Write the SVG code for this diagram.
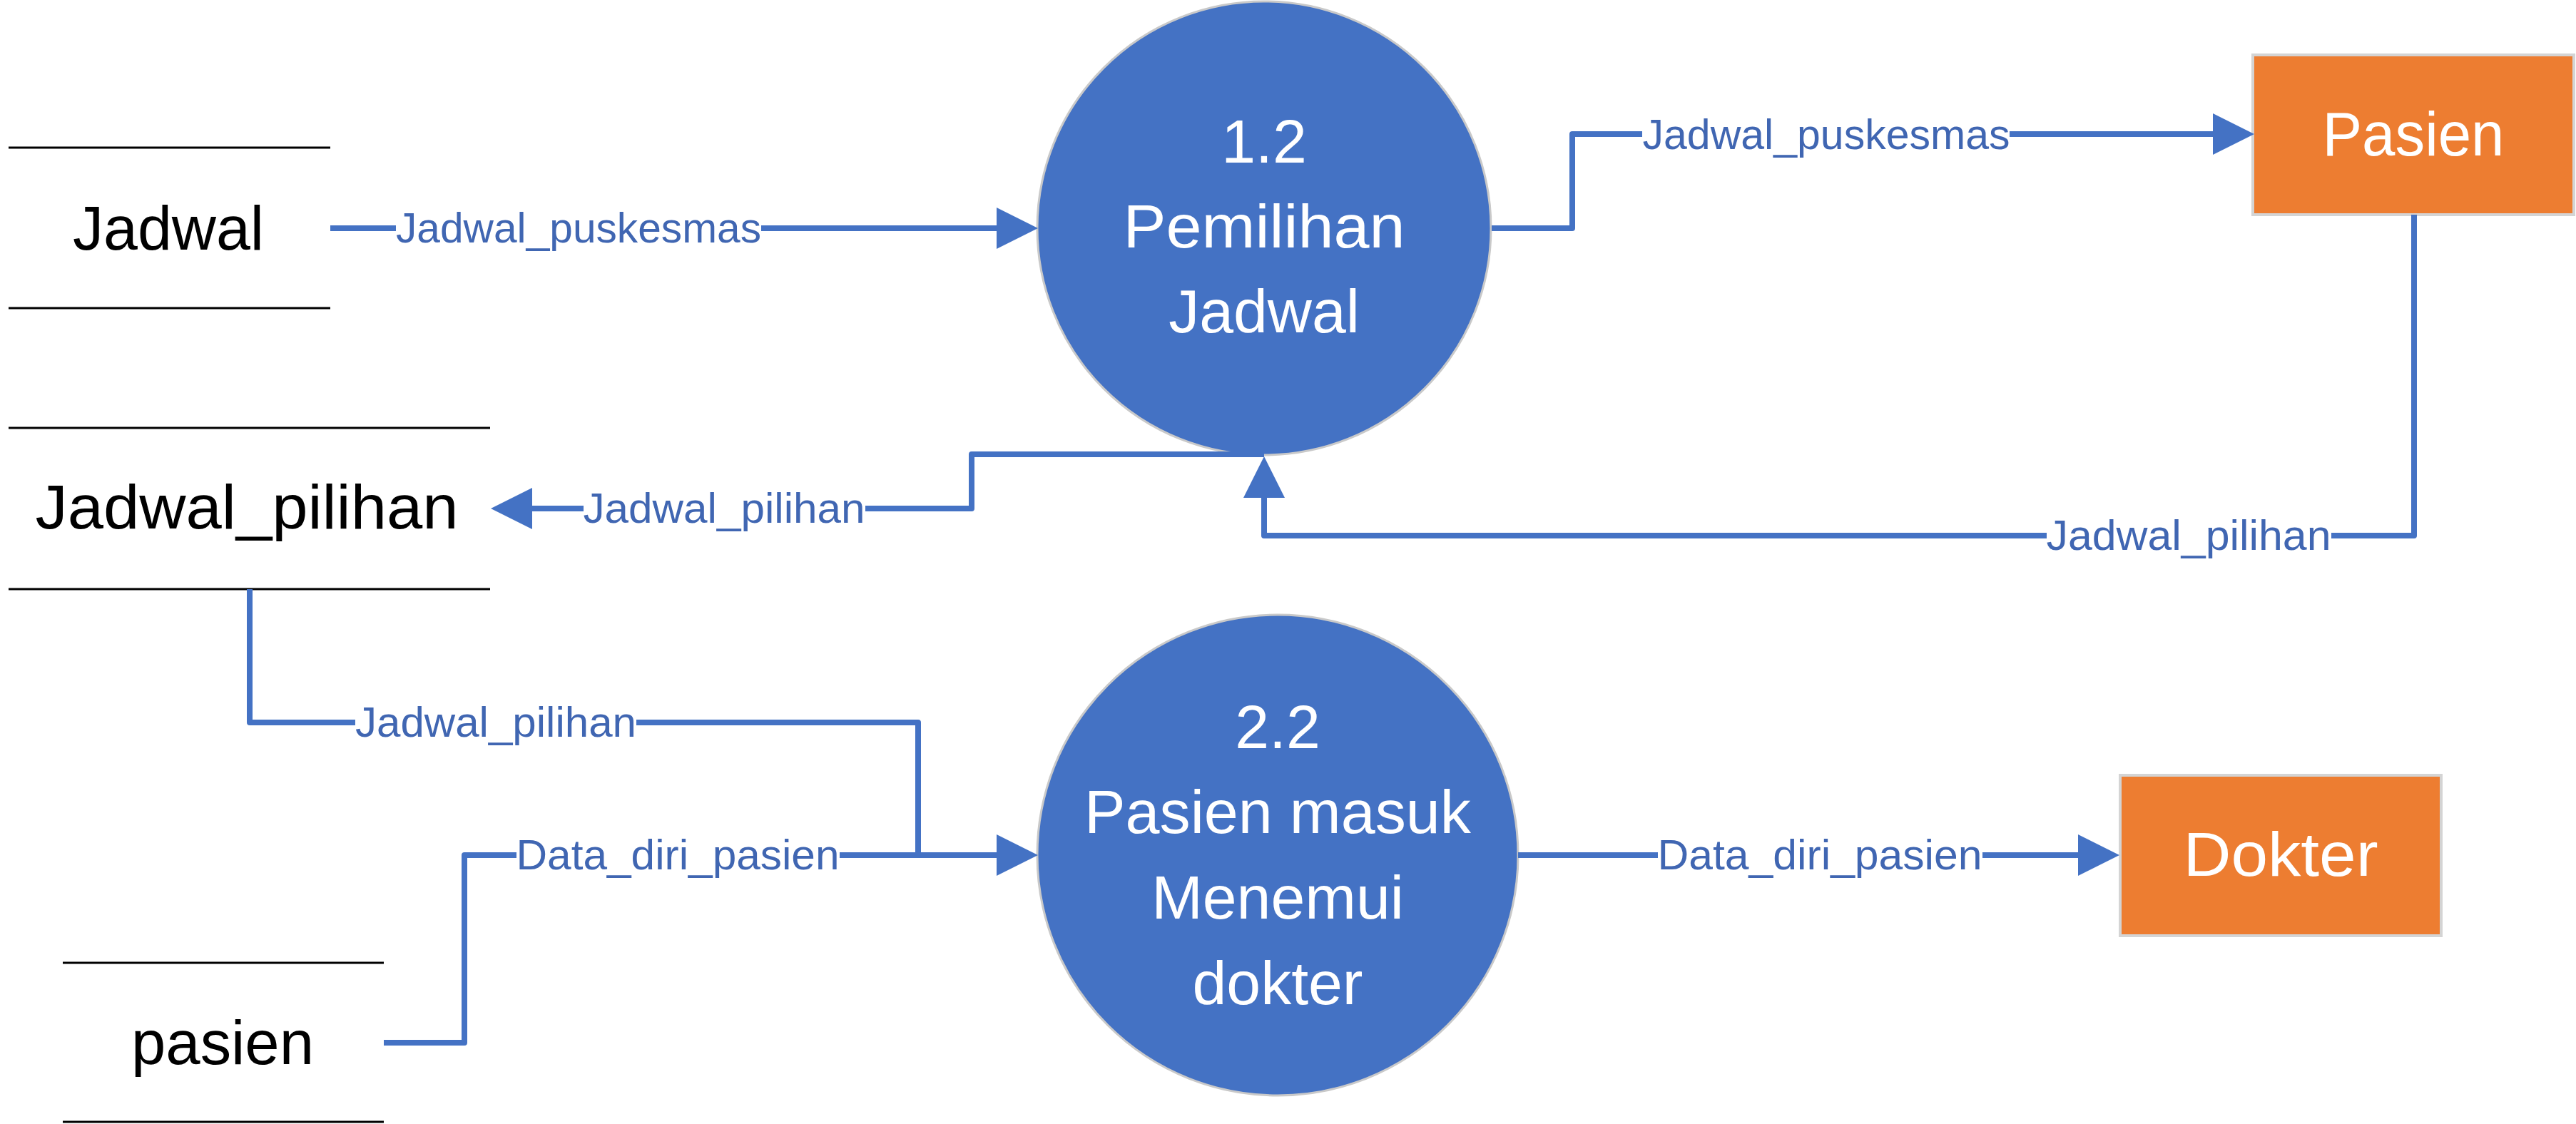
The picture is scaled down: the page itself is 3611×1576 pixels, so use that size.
<svg xmlns="http://www.w3.org/2000/svg" width="3611" height="1576" viewBox="0 0 3611 1576">
<style>
.store{stroke:#000;stroke-width:3;fill:none}
.stxt{font-family:"Liberation Sans",Arial,sans-serif;font-size:88px;fill:#000;text-anchor:middle}
.proc{fill:#4472C4;stroke:#C9C9C9;stroke-width:3}
.ptxt{font-family:"Liberation Sans",Arial,sans-serif;font-size:86px;fill:#fff;text-anchor:middle}
.ent{fill:#ED7D31;stroke:#D4D4D4;stroke-width:4}
.etxt{font-family:"Liberation Sans",Arial,sans-serif;font-size:88px;fill:#fff;text-anchor:middle}
.flow{stroke:#4472C4;stroke-width:8;fill:none;stroke-linejoin:round}
.lbg{fill:#fff}
.ltxt{font-family:"Liberation Sans",Arial,sans-serif;font-size:60px;fill:#4066B2;text-anchor:middle}
</style>
<defs>
<marker id="arr" markerUnits="userSpaceOnUse" markerWidth="60" markerHeight="60" viewBox="0 -30 60 60" refX="0" refY="0" orient="auto">
<path d="M0,-29 L58,0 L0,29 Z" fill="#4472C4"/>
</marker>
</defs>
<g id="store-jadwal">
<line class="store" x1="12" y1="207" x2="463" y2="207"/>
<line class="store" x1="12" y1="432" x2="463" y2="432"/>
<text class="stxt" x="236" y="350" textLength="268" lengthAdjust="spacingAndGlyphs">Jadwal</text>
</g>
<g id="store-jadwal-pilihan">
<line class="store" x1="12" y1="600" x2="687" y2="600"/>
<line class="store" x1="12" y1="826" x2="687" y2="826"/>
<text class="stxt" x="346" y="741" textLength="593" lengthAdjust="spacingAndGlyphs">Jadwal_pilihan</text>
</g>
<g id="store-pasien">
<line class="store" x1="88" y1="1350" x2="538" y2="1350"/>
<line class="store" x1="88" y1="1573" x2="538" y2="1573"/>
<text class="stxt" x="312" y="1492" textLength="256" lengthAdjust="spacingAndGlyphs">pasien</text>
</g>
<g id="proc-1-2">
<circle class="proc" cx="1772" cy="320" r="318"/>
<text class="ptxt" x="1772" y="228">1.2</text>
<text class="ptxt" x="1772" y="347" textLength="395" lengthAdjust="spacingAndGlyphs">Pemilihan</text>
<text class="ptxt" x="1772" y="466">Jadwal</text>
</g>
<g id="proc-2-2">
<circle class="proc" cx="1791" cy="1199" r="337"/>
<text class="ptxt" x="1791" y="1049">2.2</text>
<text class="ptxt" x="1791" y="1168" textLength="542" lengthAdjust="spacingAndGlyphs">Pasien masuk</text>
<text class="ptxt" x="1791" y="1288">Menemui</text>
<text class="ptxt" x="1791" y="1408">dokter</text>
</g>
<g id="ent-pasien">
<rect class="ent" x="3158" y="77" width="450" height="224"/>
<text class="etxt" x="3383" y="218" textLength="255" lengthAdjust="spacingAndGlyphs">Pasien</text>
</g>
<g id="ent-dokter">
<rect class="ent" x="2972" y="1087" width="450" height="225"/>
<text class="etxt" x="3197" y="1228" textLength="273" lengthAdjust="spacingAndGlyphs">Dokter</text>
</g>
<g id="connectors">
<path class="flow" d="M463,320 H1397" marker-end="url(#arr)"/>
<rect class="lbg" x="555" y="292" width="512" height="56"/>
<text class="ltxt" x="811" y="340" textLength="512" lengthAdjust="spacingAndGlyphs">Jadwal_puskesmas</text>

<path class="flow" d="M2091,320 H2204 V188 H3102" marker-end="url(#arr)"/>
<rect class="lbg" x="2302" y="160" width="515" height="56"/>
<text class="ltxt" x="2560" y="209" textLength="515" lengthAdjust="spacingAndGlyphs">Jadwal_puskesmas</text>

<path class="flow" d="M3384,301 V751 H1772 V698" marker-end="url(#arr)"/>
<rect class="lbg" x="2869" y="723" width="399" height="56"/>
<text class="ltxt" x="3068" y="771" textLength="399" lengthAdjust="spacingAndGlyphs">Jadwal_pilihan</text>

<path class="flow" d="M1772,637 H1362 V713 H746" marker-end="url(#arr)"/>
<rect class="lbg" x="818" y="685" width="395" height="56"/>
<text class="ltxt" x="1015" y="733" textLength="395" lengthAdjust="spacingAndGlyphs">Jadwal_pilihan</text>

<path class="flow" d="M350,826 V1013 H1287 V1199"/>
<rect class="lbg" x="498" y="985" width="394" height="56"/>
<text class="ltxt" x="695" y="1033" textLength="394" lengthAdjust="spacingAndGlyphs">Jadwal_pilihan</text>

<path class="flow" d="M538,1462 H651 V1199 H1397" marker-end="url(#arr)"/>
<rect class="lbg" x="724" y="1171" width="453" height="56"/>
<text class="ltxt" x="950" y="1219" textLength="453" lengthAdjust="spacingAndGlyphs">Data_diri_pasien</text>

<path class="flow" d="M2128,1199 H2913" marker-end="url(#arr)"/>
<rect class="lbg" x="2324" y="1171" width="455" height="56"/>
<text class="ltxt" x="2551" y="1219" textLength="455" lengthAdjust="spacingAndGlyphs">Data_diri_pasien</text>
</g>
</svg>
